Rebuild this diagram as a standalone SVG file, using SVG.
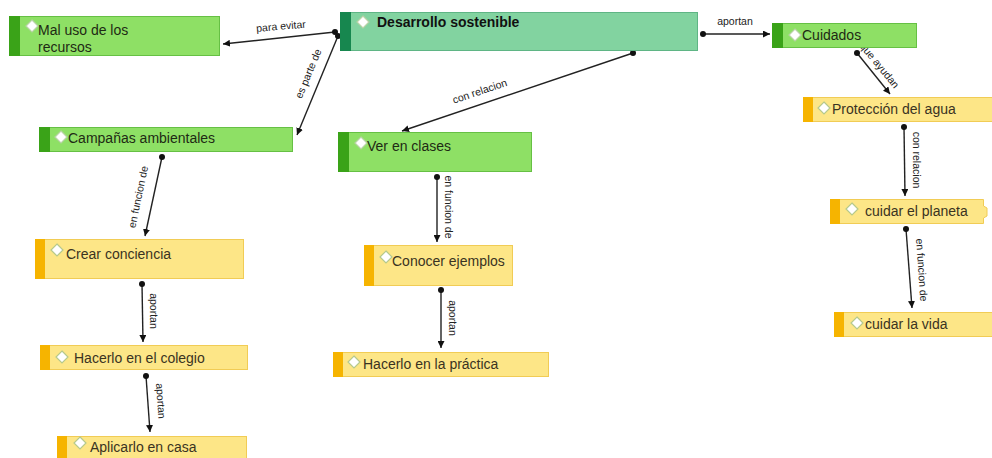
<svg xmlns="http://www.w3.org/2000/svg" width="992" height="458" viewBox="0 0 992 458">
<defs>
<marker id="ah" viewBox="0 0 10 10" refX="10" refY="5" markerWidth="7" markerHeight="7" markerUnits="userSpaceOnUse" orient="auto">
<path d="M0,0 L10,5 L0,10 z" fill="#111"/>
</marker>
<style>
.bg{fill:#ffffff}
.ln{stroke:#222;stroke-width:1.4;fill:none;marker-end:url(#ah)}
.dot{fill:#111}
.lbl{font-family:"Liberation Sans",Arial,sans-serif;font-size:10.5px;fill:#222;text-anchor:middle;dominant-baseline:middle}
.g{fill:#8ee065;stroke:#66c044;stroke-width:1}
.gs{fill:#3aa318}
.m{fill:#82d3a0;stroke:#5fb585;stroke-width:1}
.ms{fill:#17874f}
.y{fill:#fde687;stroke:#f1cc55;stroke-width:1}
.ys{fill:#f6b400}
.t{font-family:"Liberation Sans",Arial,sans-serif;font-size:14px;fill:#1e2a14}
.ty{font-family:"Liberation Sans",Arial,sans-serif;font-size:14px;fill:#3a3322}
.tb{font-family:"Liberation Sans",Arial,sans-serif;font-size:14px;font-weight:bold;fill:#111}
.dm{fill:#ffffff;stroke:#b9d3a6;stroke-width:1.2}
.dmy{fill:#ffffff;stroke:#b5c98c;stroke-width:1.2}
</style>
</defs>
<rect class="bg" x="0" y="0" width="992" height="458"/>

<g id="connectors">
<line class="ln" x1="335" y1="32" x2="223" y2="44"/><circle class="dot" cx="335" cy="32" r="3"/>
<text class="lbl" transform="translate(281,27) rotate(-5)">para evitar</text>
<line class="ln" x1="338" y1="36" x2="297" y2="135"/><circle class="dot" cx="338" cy="36" r="3"/>
<text class="lbl" transform="translate(309,74) rotate(-67.5)">es parte de</text>
<line class="ln" x1="633" y1="53" x2="402" y2="131"/><circle class="dot" cx="633" cy="53" r="3"/>
<text class="lbl" transform="translate(480,92) rotate(-18.7)">con relacion</text>
<line class="ln" x1="703" y1="34" x2="770" y2="34"/><circle class="dot" cx="703" cy="34" r="3"/>
<text class="lbl" x="735" y="22">aportan</text>
<line class="ln" x1="857" y1="53" x2="890" y2="94"/><circle class="dot" cx="857" cy="53" r="3"/>
<text class="lbl" transform="translate(879,66) rotate(50.5)">que ayudan</text>
<line class="ln" x1="904" y1="127" x2="905" y2="196"/><circle class="dot" cx="904" cy="127" r="3"/>
<text class="lbl" transform="translate(916,160) rotate(90)">con relacion</text>
<line class="ln" x1="906" y1="229" x2="912" y2="308"/><circle class="dot" cx="906" cy="229" r="3"/>
<text class="lbl" transform="translate(921,270) rotate(86)">en funcion de</text>
<line class="ln" x1="162" y1="157" x2="145" y2="236"/><circle class="dot" cx="162" cy="157" r="3"/>
<text class="lbl" transform="translate(139,197) rotate(-78)">en funcion de</text>
<line class="ln" x1="142" y1="284" x2="143" y2="342"/><circle class="dot" cx="142" cy="284" r="3"/>
<text class="lbl" transform="translate(153,311) rotate(90)">aportan</text>
<line class="ln" x1="146" y1="376" x2="150" y2="432"/><circle class="dot" cx="146" cy="376" r="3"/>
<text class="lbl" transform="translate(160,401) rotate(86)">aportan</text>
<line class="ln" x1="437" y1="177" x2="437" y2="242"/><circle class="dot" cx="437" cy="177" r="3"/>
<text class="lbl" transform="translate(448,207) rotate(90)">en funcion de</text>
<line class="ln" x1="441" y1="290" x2="441" y2="348"/><circle class="dot" cx="441" cy="290" r="3"/>
<text class="lbl" transform="translate(452,318) rotate(90)">aportan</text>
</g>

<g id="n-mal-uso">
<rect class="g" x="9.5" y="16.5" width="210" height="39"/><rect class="gs" x="9" y="16" width="11" height="40"/>
<path class="dm" d="M32,20 L38,26 L32,32 L26,26 z"/>
<text class="t" x="38" y="35">Mal uso de los</text>
<text class="t" x="38" y="52">recursos</text>
</g>

<g id="n-desarrollo">
<rect class="m" x="340.5" y="12.5" width="357" height="38"/><rect class="ms" x="340" y="12" width="11" height="39"/>
<path class="dm" d="M363,16 L369,22 L363,28 L357,22 z"/>
<text class="tb" x="377" y="27">Desarrollo sostenible</text>
</g>

<g id="n-cuidados">
<rect class="g" x="772.5" y="23.5" width="144" height="24"/><rect class="gs" x="772" y="23" width="11" height="25"/>
<path class="dm" d="M795,29 L801,35 L795,41 L789,35 z"/>
<text class="t" x="802" y="40">Cuidados</text>
</g>

<g id="n-proteccion">
<rect class="y" x="803.5" y="97.5" width="190" height="24"/><rect class="ys" x="803" y="97" width="10" height="25"/>
<path class="dmy" d="M824,102 L830,108 L824,114 L818,108 z"/>
<text class="ty" x="832" y="114">Protección del agua</text>
</g>

<g id="n-planeta">
<path class="y" d="M830.5,199.5 H983.5 V206 L987,208 V216 L983.5,218 V223.5 H830.5 z"/><rect class="ys" x="830" y="199" width="10" height="25"/>
<path class="dmy" d="M852,203 L858,209 L852,215 L846,209 z"/>
<text class="ty" x="865" y="216">cuidar el planeta</text>
</g>

<g id="n-vida">
<rect class="y" x="834.5" y="312.5" width="160" height="24"/><rect class="ys" x="834" y="312" width="10" height="25"/>
<path class="dmy" d="M857,317 L863,323 L857,329 L851,323 z"/>
<text class="ty" x="865" y="329">cuidar la vida</text>
</g>

<g id="n-campanas">
<rect class="g" x="39.5" y="127.5" width="253" height="24"/><rect class="gs" x="39" y="127" width="11" height="25"/>
<path class="dm" d="M61,131 L67,137 L61,143 L55,137 z"/>
<text class="t" x="68" y="143">Campañas ambientales</text>
</g>

<g id="n-ver">
<rect class="g" x="338.5" y="132.5" width="193" height="39"/><rect class="gs" x="338" y="132" width="11" height="40"/>
<path class="dm" d="M361,137 L367,143 L361,149 L355,143 z"/>
<text class="t" x="367" y="151">Ver en clases</text>
</g>

<g id="n-crear">
<rect class="y" x="35.5" y="239.5" width="208" height="39"/><rect class="ys" x="35" y="239" width="10" height="40"/>
<path class="dmy" d="M57,244 L63,250 L57,256 L51,250 z"/>
<text class="ty" x="66" y="259">Crear conciencia</text>
</g>

<g id="n-conocer">
<rect class="y" x="364.5" y="245.5" width="148" height="40"/><rect class="ys" x="364" y="245" width="10" height="41"/>
<path class="dmy" d="M386,251 L392,257 L386,263 L380,257 z"/>
<text class="ty" x="392" y="266">Conocer ejemplos</text>
</g>

<g id="n-colegio">
<rect class="y" x="40.5" y="345.5" width="207" height="24"/><rect class="ys" x="40" y="345" width="10" height="25"/>
<path class="dmy" d="M62,351 L68,357 L62,363 L56,357 z"/>
<text class="ty" x="74" y="363">Hacerlo en el colegio</text>
</g>

<g id="n-practica">
<rect class="y" x="333.5" y="352.5" width="215" height="24"/><rect class="ys" x="333" y="352" width="10" height="25"/>
<path class="dmy" d="M354,356 L360,362 L354,368 L348,362 z"/>
<text class="ty" x="363" y="369">Hacerlo en la práctica</text>
</g>

<g id="n-casa">
<rect class="y" x="57.5" y="436.5" width="189" height="26"/><rect class="ys" x="57" y="436" width="10" height="27"/>
<path class="dmy" d="M80,437 L86,443 L80,449 L74,443 z"/>
<text class="ty" x="90" y="452">Aplicarlo en casa</text>
</g>
</svg>
